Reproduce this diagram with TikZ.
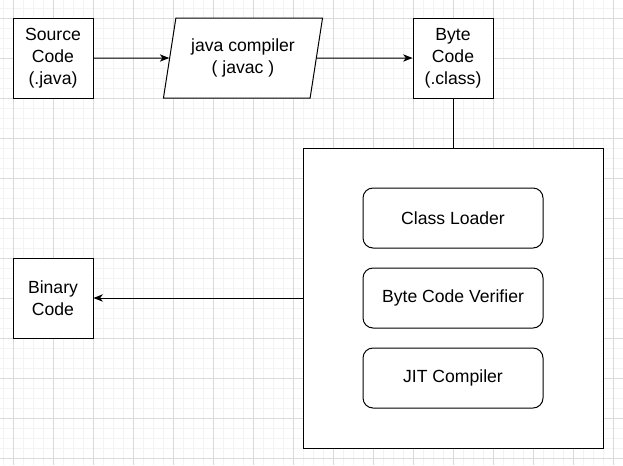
\documentclass[tikz,border=0pt]{standalone}
\usepackage{fontspec}
\setmainfont{Liberation Sans}
\usetikzlibrary{arrows.meta,shapes.geometric,positioning,calc}

\definecolor{minorgrid}{HTML}{F3F3F3}
\definecolor{majorgrid}{HTML}{DADADA}

\tikzset{
  block/.style={rectangle, draw, line width=0.75pt, fill=white,
    minimum width=60pt, minimum height=60pt, align=center, inner sep=0pt,
    font=\fontsize{13.2}{16.5}\selectfont},
  compiler/.style={trapezium, trapezium left angle=75.96, trapezium right angle=104.04,
    trapezium stretches=true, draw, line width=0.75pt, fill=white,
    minimum width=120pt, minimum height=60pt, align=center, inner sep=0pt,
    font=\fontsize{13.2}{16.5}\selectfont},
  jvm/.style={rectangle, draw, line width=0.75pt, fill=white,
    minimum width=225pt, minimum height=225pt},
  part/.style={rectangle, rounded corners=7.5pt, draw, line width=0.75pt, fill=white,
    minimum width=135pt, minimum height=45pt, align=center, inner sep=0pt,
    font=\fontsize{13.2}{16.5}\selectfont},
  flow/.style={line width=0.75pt, -{Stealth[length=7pt,width=5.5pt,inset=2pt]}}
}

\begin{document}
\begin{tikzpicture}[x=0.75pt,y=-0.75pt]

\useasboundingbox (0,0) rectangle (623,465);

%grid
\foreach \gx in {3,13,...,623}
  \draw[minorgrid,line width=0.75pt] (\gx,0) -- (\gx,465);
\foreach \gy in {8,18,...,465}
  \draw[minorgrid,line width=0.75pt] (0,\gy) -- (623,\gy);
\foreach \gx in {13,53,...,623}
  \draw[majorgrid,line width=0.75pt] (\gx,0) -- (\gx,465);
\foreach \gy in {18,58,...,465}
  \draw[majorgrid,line width=0.75pt] (0,\gy) -- (623,\gy);

%top row
\node[block] (source) at (53,58) {Source\\Code\\(.java)};
\node[compiler] (javac) at (243,58) {java compiler\\( javac )};
\node[block] (bytecode) at (453,58) {Byte\\Code\\(.class)};

%virtual machine
\node[jvm] (vm) at (453,298) {};
\node[part] (loader) at (453,218) {Class Loader};
\node[part] (verifier) at (453,298) {Byte Code Verifier};
\node[part] (jit) at (453,378) {JIT Compiler};

\node[block] (binary) at (53,298) {Binary\\Code};

%connectors
\draw[flow] (source.east) -- (javac.west);
\draw[flow] (javac.east) -- (bytecode.west);
\draw[line width=0.75pt] (bytecode.south) -- (vm.north);
\draw[flow] (vm.west) -- (binary.east);

\end{tikzpicture}
\end{document}
